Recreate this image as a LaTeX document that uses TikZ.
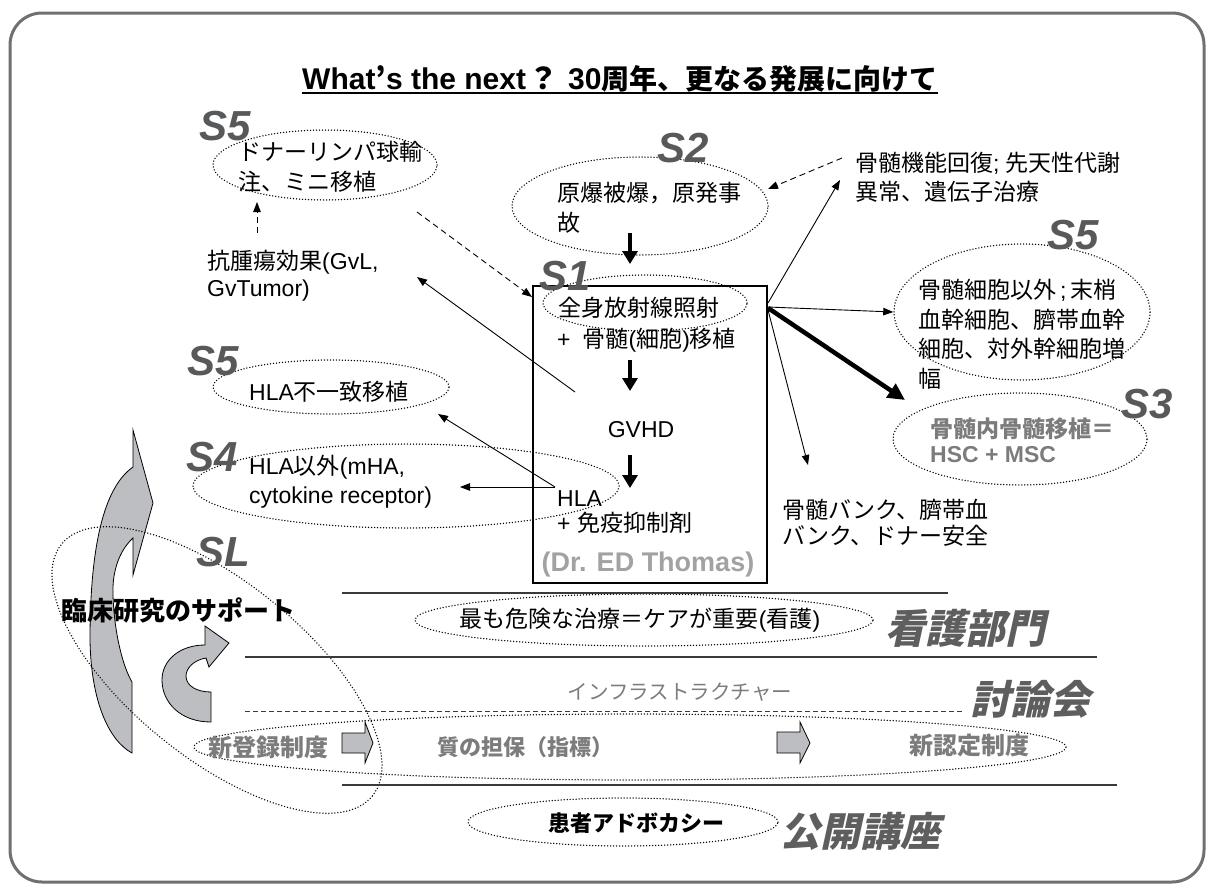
\documentclass[tikz,border=0pt]{standalone}
\usepackage{fontspec}
\setmainfont{Liberation Sans}
\newfontfamily\jp{Noto Sans CJK JP}
\newfontfamily\jpsl[FakeSlant=0.22]{Noto Sans CJK JP}
\usetikzlibrary{arrows.meta,shapes.geometric,calc}
\definecolor{sgray}{HTML}{58595B}
\definecolor{biggray}{HTML}{5E5E5E}
\definecolor{midgray}{HTML}{7C7C7C}
\definecolor{drgray}{HTML}{A2A2A2}
\definecolor{fillgray}{HTML}{BDBEC1}
\definecolor{linegray}{HTML}{3A3A3A}
\definecolor{bordergray}{HTML}{707070}
\tikzset{
  txt/.style={font=\fontsize{23}{30}\selectfont, inner sep=0pt, align=left, anchor=west},
  slab/.style={font=\fontsize{42}{42}\selectfont\bfseries\itshape, text=sgray, inner sep=0pt},
  bigit/.style={font=\jpsl\bfseries\fontsize{40}{40}\selectfont, text=biggray, inner sep=0pt},
  dotel/.style={draw, ellipse, line width=1.5pt, line cap=round, dash pattern=on 0pt off 3pt, inner sep=0pt},
  thinarr/.style={-{Triangle[length=10pt,width=7.5pt]}, line width=0.9pt},
  dasharr/.style={-{Triangle[length=10pt,width=7.5pt]}, line width=0.9pt, dash pattern=on 6pt off 4pt},
  bigdown/.style={-{Triangle[length=13pt,width=15pt]}, line width=4pt},
  sepline/.style={line width=1.3pt, draw=linegray},
  blockarr/.style={draw=black, fill=fillgray, line width=0.8pt},
}
\begin{document}
\begin{tikzpicture}[x=1pt,y=-1pt]
\useasboundingbox (0,0) rectangle (1210,886);
% frame
\draw[line width=3pt, draw=bordergray, rounded corners=32pt] (10,13) rectangle (1204,882);

% ---- gray block arrows (drawn first, below text and ellipses)
\draw[blockarr] (342,733) -- (365,733) -- (365,722) -- (373,743) -- (365,763) -- (365,753) -- (342,753) -- cycle;
\draw[blockarr] (777,732) -- (800,732) -- (800,722) -- (810,743) -- (800,763) -- (800,753) -- (777,753) -- cycle;
% big curved arrow
\draw[blockarr] (133,430) -- (153,503) -- (133,575) -- (133,538)
  .. controls (120,550) and (112,570) .. (113,595)
  .. controls (114,630) and (122,665) .. (132,682) -- (132,753)
  .. controls (108,740) and (91,700) .. (90,640)
  .. controls (90,560) and (100,490) .. (133,467) -- cycle;
% small circular arrow
\draw[blockarr] (211,722) .. controls (180,722) and (162,702) .. (162,680)
  .. controls (162,660) and (180,645) .. (205,645) -- (205,626) -- (229,643) -- (209,667) -- (206,658)
  .. controls (194,660) and (186,668) .. (186,676)
  .. controls (186,686) and (197,692) .. (211,692) -- cycle;

% title
\node[font=\fontsize{30}{30}\selectfont\bfseries, inner sep=0pt, anchor=base west] (title) at (302,89)
  {What{\jp ’}s the next\hspace{2pt}{\jp ？}\hspace{10pt}30{\jp\fontsize{28}{28}\selectfont 周年、更なる発展に向けて}};
\draw[line width=2.2pt] ($(title.base west)+(0,4)$) -- ($(title.base east)+(0,4)$);

% ---- ellipses
\node[dotel, minimum width=224pt, minimum height=70pt] (e1) at (325,165) {};
\node[dotel, minimum width=256pt, minimum height=98pt] (e2) at (640,206) {};
\node[dotel, minimum width=204pt, minimum height=56pt] (eS1) at (645,303) {};
\node[dotel, minimum width=256pt, minimum height=136pt] (e5r) at (1022,312) {};
\node[dotel, minimum width=254pt, minimum height=92pt] (eS3) at (1020,439) {};
\node[dotel, minimum width=236pt, minimum height=54pt] (e5m) at (331,387) {};
\node[dotel, minimum width=426pt, minimum height=84pt] (e4) at (406,486) {};
\node[dotel, minimum width=400pt, minimum height=176pt, rotate=-39] (eSL) at (217,670) {};
\node[dotel, minimum width=458pt, minimum height=52pt] (eKango) at (644,620) {};
\node[dotel, minimum width=872pt, minimum height=66pt] (eLong) at (630,747) {};
\node[dotel, minimum width=310pt, minimum height=48pt] (eKanja) at (623,822) {};

% ---- box
\node[draw, line width=1.8pt, minimum width=234pt, minimum height=297pt, inner sep=0pt] (box) at (650,434.5) {};

% ---- separator lines
\coordinate (l1a) at (342,593); \coordinate (l1b) at (948,593);
\coordinate (l2a) at (245,657); \coordinate (l2b) at (1097,657);
\coordinate (l3a) at (245,711); \coordinate (l3b) at (963,711);
\coordinate (l4a) at (342,785); \coordinate (l4b) at (1117,785);
\draw[sepline] (l1a) -- (l1b);
\draw[sepline] (l2a) -- (l2b);
\draw[sepline, line width=1pt, dash pattern=on 5pt off 3pt] (l3a) -- (l3b);
\draw[sepline] (l4a) -- (l4b);

% ---- S labels
\node[slab] (s5a) at (225,126) {S5};
\node[slab] (s2) at (683,148) {S2};
\node[slab] (s1) at (565,276) {S1};
\node[slab] (s5b) at (1073,235) {S5};
\node[slab] (s5c) at (213,361) {S5};
\node[slab] (s4) at (212,457) {S4};
\node[slab] (s3) at (1147,404) {S3};
\node[slab] (sl) at (223,552) {SL};

% ---- texts
\node[txt] (tDonor) at (238,167) {{\jp ドナーリンパ球輸}\\{\jp 注、ミニ移植}};
\node[txt, font=\fontsize{23}{27}\selectfont] (tGvL) at (207,276) {{\jp 抗腫瘍効果}(GvL,\\GvTumor)};
\node[txt] (tGen) at (557,208) {{\jp 原爆被爆，原発事}\\{\jp 故}};
\node[txt, font=\fontsize{23}{29}\selectfont] (tKot) at (855,177) {{\jp 骨髄機能回復}; {\jp 先天性代謝}\\{\jp 異常、遺伝子治療}};
\node[txt] (tZen) at (558,308) {{\jp 全身放射線照射}};
\node[txt] (tKotsu) at (557,340) {+\hspace{12pt}{\jp 骨髄}({\jp 細胞}){\jp 移植}};
\node[txt, anchor=center] (tGVHD) at (641,430) {GVHD};
\node[txt, font=\fontsize{23}{25}\selectfont] (tHLA) at (557,512) {HLA\\+ {\jp 免疫抑制剤}};
\node[txt, anchor=center, font=\fontsize{27}{27}\selectfont\bfseries, text=drgray] (tDr) at (648,565) {(Dr. ED Thomas)};
\node[txt, font=\fontsize{23}{29.5}\selectfont] (tMatsu) at (918,334) {{\jp 骨髄細胞以外}\,;\,{\jp 末梢}\\{\jp 血幹細胞、臍帯血幹}\\{\jp 細胞、対外幹細胞増}\\{\jp 幅}};
\node[txt, font=\fontsize{23}{25}\selectfont\bfseries, text=midgray] (tS3) at (930,440) {{\jp 骨髄内骨髄移植＝}\\HSC + MSC};
\node[txt] (tFuicchi) at (249,392) {HLA{\jp 不一致移植}};
\node[txt, font=\fontsize{23}{29}\selectfont] (tIgai) at (249,482) {HLA{\jp 以外}(mHA,\\cytokine receptor)};
\node[txt, font=\fontsize{23}{26}\selectfont] (tBank) at (782,523) {{\jp 骨髄バンク、臍帯血}\\{\jp バンク、ドナー安全}};
\node[txt, anchor=center, font=\jp\bfseries\fontsize{26}{26}\selectfont] (tRinsho) at (178,610) {臨床研究のサポート};
\node[txt, anchor=center] (tKiken) at (640,620) {{\jp 最も危険な治療＝ケアが重要}({\jp 看護})};
\node[txt, anchor=center, font=\jp\fontsize{20.5}{20.5}\selectfont, text=midgray] (tInfra) at (680,692) {インフラストラクチャー};
\node[txt, anchor=center, font=\jp\bfseries\fontsize{24}{24}\selectfont, text=midgray] (tToroku) at (268,747) {新登録制度};
\node[txt, anchor=center, font=\jp\bfseries\fontsize{22}{22}\selectfont, text=midgray] (tShitsu) at (525,747) {質の担保（指標）};
\node[txt, anchor=center, font=\jp\bfseries\fontsize{24}{24}\selectfont, text=midgray] (tNintei) at (969,745) {新認定制度};
\node[txt, anchor=center, font=\jp\bfseries\fontsize{22}{22}\selectfont] (tKanja) at (636,823) {患者アドボカシー};
\node[bigit] (bKango) at (965,628) {看護部門};
\node[bigit] (bToron) at (1030,699) {討論会};
\node[bigit] (bKoukai) at (860,831) {公開講座};

% ---- connectors
\coordinate (gvlUp0) at (257,233); \coordinate (gvlUp1) at (257,202);
\draw[dasharr] (gvlUp0) -- (gvlUp1);
\coordinate (dA) at (417,212); \coordinate (boxL) at (532,297);
\draw[dasharr] (dA) -- (boxL);
\coordinate (kotTip) at (842,158); \coordinate (e2R) at (768,189);
\draw[dasharr] (kotTip) -- (e2R);
\coordinate (bR1) at (768,303); \coordinate (kotIn) at (840,180);
\draw[thinarr] (bR1) -- (kotIn);
\coordinate (bR2) at (768,307);
\draw[thinarr] (bR2) -- (e5r.west);
\coordinate (bR3) at (768,308); \coordinate (s3Tip) at (905,400);
\draw[-{Triangle[length=17pt,width=16pt]}, line width=4.5pt] (bR3) -- (s3Tip);
\coordinate (bR4) at (768,310); \coordinate (bankTip) at (808,465);
\draw[thinarr] (bR4) -- (bankTip);
\coordinate (gvA) at (575,392); \coordinate (gvTip) at (417,277);
\draw[thinarr] (gvA) -- (gvTip);
\coordinate (hlaA) at (555,487); \coordinate (fuTip) at (438,414); \coordinate (igTip) at (460,487);
\draw[thinarr] (hlaA) -- (fuTip);
\draw[thinarr] (hlaA) -- (igTip);
\coordinate (d1a) at (630,233); \coordinate (d1b) at (630,264);
\coordinate (d2a) at (630,360); \coordinate (d2b) at (630,391);
\coordinate (d3a) at (630,455); \coordinate (d3b) at (630,488);
\draw[bigdown] (d1a) -- (d1b);
\draw[bigdown] (d2a) -- (d2b);
\draw[bigdown] (d3a) -- (d3b);
\end{tikzpicture}
\end{document}
